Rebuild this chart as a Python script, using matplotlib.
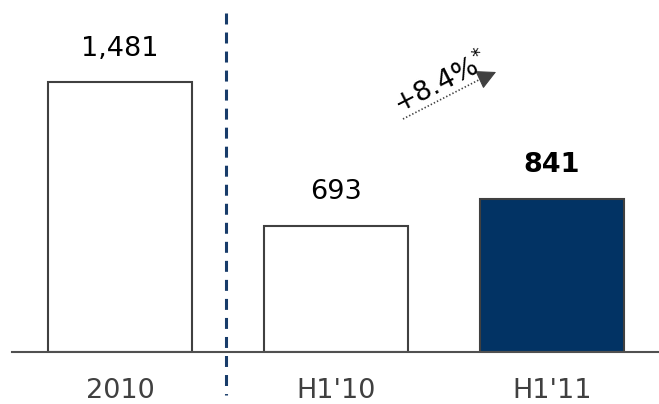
import matplotlib
matplotlib.use("Agg")
import matplotlib.pyplot as plt

plt.rcParams["font.family"] = ["DejaVu Sans"]
plt.rcParams["lines.scale_dashes"] = False

categories = ["2010", "H1'10", "H1'11"]
values = [1481, 693, 841]
labels = ["1,481", "693", "841"]
fills = ["white", "white", "#023364"]
weights = ["normal", "normal", "bold"]
growth_label = "+8.4%$^{*}$"

W, H = 659, 404
fig = plt.figure(figsize=(W / 100, H / 100), dpi=100)
ax = fig.add_axes([12 / W, 52 / H, 647 / W, 352 / H])

x = list(range(len(categories)))
ax.bar(x, values, width=0.667, color=fills, edgecolor="#404040", linewidth=1.5, zorder=2)

for xi, v, lab, fw in zip(x, values, labels, weights):
    ax.annotate(lab, (xi, v), xytext=(0, 19), textcoords="offset points",
                ha="center", va="baseline", fontsize=19.5, fontweight=fw, color="black")

ax.set_xlim(-0.5, 2.4954)
ax.set_ylim(0, 1930.8)
ax.set_xticks(x)
ax.set_xticklabels(categories, fontsize=19.5, color="#404040")
ax.tick_params(axis="x", length=0, pad=19)
ax.set_yticks([])
for side in ["top", "left", "right"]:
    ax.spines[side].set_visible(False)
ax.spines["bottom"].set_color("#505050")
ax.spines["bottom"].set_linewidth(1.5)

# separator between full year and half-year figures
ax.plot([0.491, 0.491], [1859, -236], color="#183c6a", linewidth=2.2,
        dashes=(7.9, 5.8), clip_on=False, zorder=3)

# growth arrow: dotted shaft plus solid head
ax.plot([1.310, 1.690], [1278, 1510], color="#404040", linewidth=1.2,
        dashes=(1.0, 1.5), zorder=3)
ax.annotate("", xy=(1.741, 1536), xytext=(1.67, 1497),
            arrowprops=dict(arrowstyle="-|>,head_length=1.2,head_width=0.62",
                            color="#404040", linewidth=0.8, shrinkA=0, shrinkB=0))
ax.text(1.486, 1472, growth_label, fontsize=19.5, rotation=27,
        rotation_mode="anchor", ha="center", va="center", color="black")

fig.savefig("out.png", dpi=100, facecolor="white")
